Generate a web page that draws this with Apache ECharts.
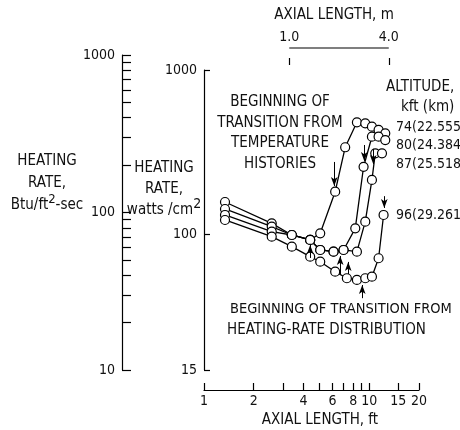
<!DOCTYPE html>
<html>
<head>
<meta charset="utf-8">
<script src="https://cdn.jsdelivr.net/npm/echarts@6/dist/echarts.min.js"></script>
<style>html,body{margin:0;padding:0;background:#fff}#c{width:460px;height:430px}</style>
</head>
<body>
<div id="c"></div>
<script>
// ---------- data ----------
const xTicks = [1, 2, 3, 4, 5, 6, 7, 8, 9, 10, 15, 20];
const xLabels = [1, 2, 4, 6, 8, 10, 15, 20];
const yLabels = [15, 100, 1000];
const btuTicks = [10, 20, 30, 40, 50, 60, 70, 80, 90, 100, 200, 300, 400, 500, 600, 700, 800, 900, 1000];
const btuLabels = [10, 100, 1000];
const mLabels = [1.0, 4.0];

const altitudeLabels = ['74(22.555', '80(24.384', '87(25.518', '96(29.261'];

const s74x = [1.34, 2.57, 3.40, 4.39, 5.05, 6.22, 7.15, 8.42, 9.46, 10.38, 11.39, 12.5];
const s74y = [157.6, 116.9, 99.3, 92.6, 101.7, 182, 339, 481, 474, 452, 432, 412];
const s80x = [1.34, 2.57, 3.40, 4.39, 5.05, 6.08, 6.99, 8.23, 9.24, 10.38, 11.39, 12.5];
const s80y = [142.9, 111.5, 99.3, 92.6, 80.5, 78.6, 80.5, 109, 258, 393, 393, 375];
const s87x = [1.34, 2.57, 3.40, 4.39, 5.05, 6.08, 6.99, 8.42, 9.46, 10.38, 10.87, 11.94];
const s87y = [131.4, 104, 99.3, 92.6, 80.5, 78.6, 80.5, 78.6, 119.6, 214.5, 311.5, 311.5];
const s96x = [1.34, 2.57, 3.40, 4.39, 5.05, 6.22, 7.32, 8.42, 9.46, 10.38, 11.39, 12.21];
const s96y = [122.5, 97, 84.3, 73.3, 68.3, 59.4, 54.2, 52.9, 54.2, 55.4, 71.7, 131.4];

// arrows: [x ft, from W/cm2, to W/cm2]
const tempArrows = [[6.14, 276, 197], [9.33, 350, 280], [10.57, 331, 268], [12.33, 171, 145]];
const rateArrows = [[4.39, 72.0, 86.4], [6.67, 57.5, 74.0], [7.46, 57.5, 68.1], [9.07, 41.0, 49.3]];

// ---------- chart ----------
const FONT = '"DejaVu Sans Condensed", "Liberation Sans Narrow", sans-serif';
const INK = '#111';
const chart = echarts.init(document.getElementById('c'), null, {renderer: 'canvas'});

const zip = (xs, ys) => xs.map((x, i) => [x, ys[i]]);
const lineSeries = (name, xs, ys) => ({
  name, type: 'line', xAxisIndex: 0, yAxisIndex: 0,
  data: zip(xs, ys),
  symbol: 'circle', symbolSize: 9,
  itemStyle: {color: '#fff', borderColor: '#000', borderWidth: 1.2},
  lineStyle: {color: '#000', width: 1.3},
  emphasis: {disabled: true}, clip: false
});
const arrowMark = (arr) => ({
  silent: true, animation: false,
  symbol: ['none', 'arrow'], symbolSize: 8,
  label: {show: false},
  itemStyle: {color: '#000'},
  lineStyle: {color: '#000', width: 1, type: 'solid'},
  emphasis: {disabled: true},
  data: arr.map(a => [
    {coord: [a[0], a[1]], symbol: 'none'},
    {coord: [a[0], a[2]], symbol: 'arrow', symbolSize: [5, 9]}
  ])
});
const txt = (text, x, y, opts) => ({
  type: 'text', x, y, silent: true,
  style: Object.assign({
    text, fill: INK, font: '15px ' + FONT,
    textAlign: 'left', align: 'left',
    textVerticalAlign: 'middle', verticalAlign: 'middle'
  }, opts || {})
});
const axisLine = {show: true, lineStyle: {color: '#000', width: 1.2}};
const lbl = {color: INK, fontFamily: FONT, fontSize: 14};

const option = {
  animation: false,
  backgroundColor: '#fff',
  textStyle: {fontFamily: FONT},
  grid: [
    {left: 204, top: 70, width: 215, height: 300, outerBoundsMode: 'none', containLabel: false},
    {left: 204, top: 48, width: 215, height: 10, outerBoundsMode: 'none', containLabel: false},
    {left: 122, top: 55, width: 10, height: 315, outerBoundsMode: 'none', containLabel: false}
  ],
  xAxis: [
    {gridIndex: 0, type: 'log', min: 1, max: 20, position: 'bottom', offset: 20,
     axisLine, splitLine: {show: false}, minorTick: {show: false},
     axisTick: {inside: true, length: 7, customValues: xTicks, lineStyle: {color: '#000', width: 1.2}},
     axisLabel: Object.assign({customValues: xLabels, margin: 4, formatter: v => String(v)}, lbl),
     name: 'AXIAL LENGTH, ft', nameLocation: 'middle', nameGap: 21,
     nameTextStyle: {color: INK, fontFamily: FONT, fontSize: 15, padding: [0, 0, 0, 17]}},
    {gridIndex: 1, type: 'log', min: 0.3048, max: 6.096, position: 'top',
     axisLine: {show: false}, splitLine: {show: false},
     axisTick: {inside: true, length: 7, customValues: mLabels, lineStyle: {color: '#000', width: 1.2}},
     axisLabel: Object.assign({customValues: mLabels, margin: 4, formatter: v => v.toFixed(1)}, lbl)},
    {gridIndex: 2, type: 'value', min: 0, max: 1, show: false}
  ],
  yAxis: [
    {gridIndex: 0, type: 'log', min: 15, max: 1000, position: 'left',
     axisLine, splitLine: {show: false},
     axisTick: {inside: true, length: 6, customValues: yLabels, lineStyle: {color: '#000', width: 1.2}},
     axisLabel: Object.assign({customValues: yLabels, margin: 7, formatter: v => String(v)}, lbl)},
    {gridIndex: 1, type: 'value', min: 0, max: 1, show: false},
    {gridIndex: 2, type: 'log', min: 10, max: 1000, position: 'left',
     axisLine, splitLine: {show: false},
     axisTick: {inside: true, length: 9, customValues: btuTicks, lineStyle: {color: '#000', width: 1.2}},
     axisLabel: Object.assign({customValues: btuLabels, margin: 7, formatter: v => String(v)}, lbl)}
  ],
  series: [
    lineSeries('74', s74x, s74y),
    lineSeries('80', s80x, s80y),
    lineSeries('87', s87x, s87y),
    lineSeries('96', s96x, s96y),
    {type: 'line', xAxisIndex: 1, yAxisIndex: 1, data: [[mLabels[0], 1], [mLabels[1], 1]],
     showSymbol: false, symbol: 'none', clip: false, silent: true,
     lineStyle: {color: '#000', width: 1.2}},
    {type: 'line', xAxisIndex: 0, yAxisIndex: 0, data: [], silent: true,
     markLine: arrowMark(tempArrows.concat(rateArrows))}
  ],
  graphic: [
    txt('AXIAL LENGTH, m', 334, 15, {textAlign: 'center', align: 'center'}),
    txt('HEATING\nRATE,\nBtu/ft{s|2}-sec', 47, 183, {textAlign: 'center', align: 'center', lineHeight: 22,
      rich: {s: {fontSize: 13, fontFamily: FONT, fill: INK, padding: [0, 0, 11, 0]}}}),
    txt('HEATING\nRATE,\nwatts /cm{s|2}', 164, 189, {textAlign: 'center', align: 'center', lineHeight: 21,
      rich: {s: {fontSize: 14, fontFamily: FONT, fill: INK, padding: [0, 0, 12, 0]}}}),
    txt('BEGINNING OF\nTRANSITION FROM\nTEMPERATURE\nHISTORIES', 280, 133, {textAlign: 'center', align: 'center', lineHeight: 20.5}),
    txt('ALTITUDE,', 386, 87),
    txt('kft (km)', 401, 107),
    txt(altitudeLabels[0], 396, 127, {font: '14px ' + FONT}),
    txt(altitudeLabels[1], 396, 145, {font: '14px ' + FONT}),
    txt(altitudeLabels[2], 396, 164, {font: '14px ' + FONT}),
    txt(altitudeLabels[3], 396, 215, {font: '14px ' + FONT}),
    txt('BEGINNING OF TRANSITION FROM', 230, 309, {font: '14.5px ' + FONT}),
    txt('HEATING-RATE DISTRIBUTION', 227, 330)
  ]
};
chart.setOption(option);
</script>
</body>
</html>
